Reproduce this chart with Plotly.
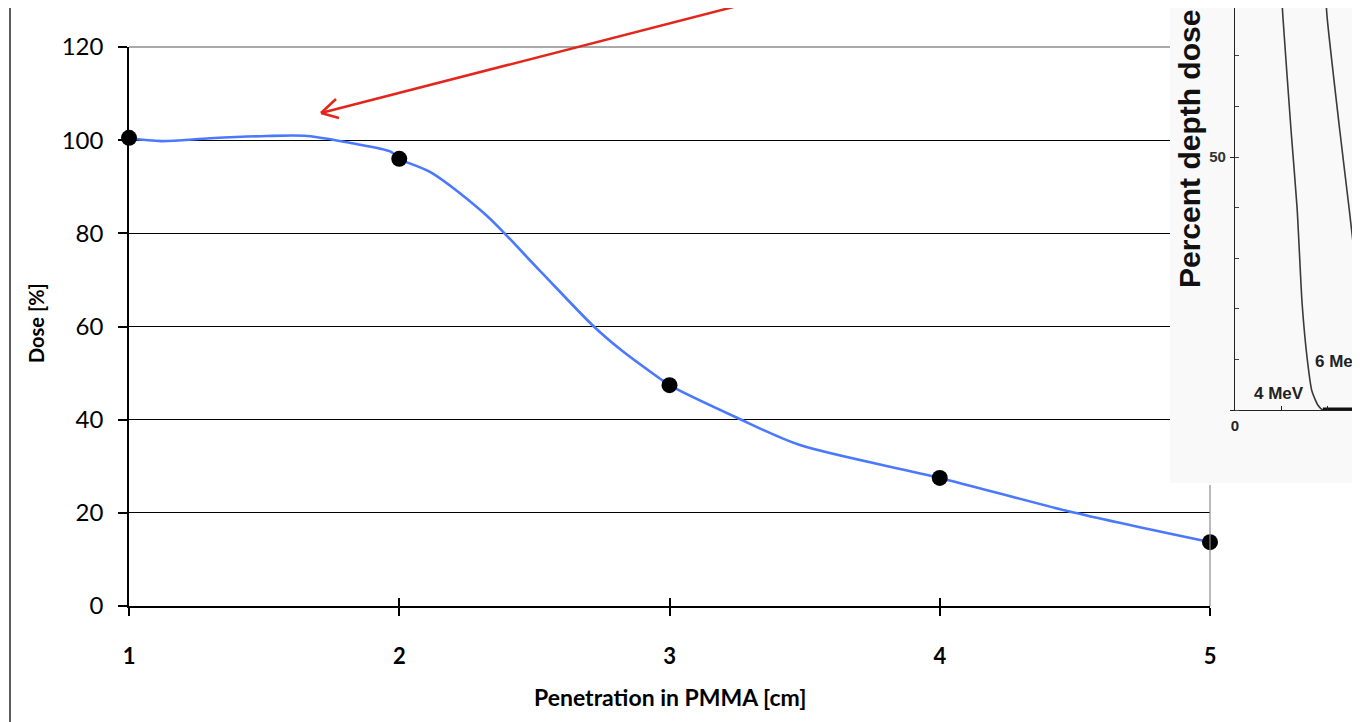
import plotly.graph_objects as go

W, H = 1360, 722
OFF = 8  # page body margin compensation (pixels)

# ---- main chart data ----
depth_cm = [1, 2, 3, 4, 5]
dose_pct = [100.5, 96.0, 47.4, 27.5, 13.7]

fit_depth_cm = [1.0, 1.12, 1.3, 1.51, 1.66, 1.82, 1.97, 2.0, 2.12, 2.32, 2.52,
                2.72, 2.82, 2.96, 3.0, 3.25, 3.48, 4.0, 4.5, 5.0]
fit_dose_pct = [100.4, 99.8, 100.4, 100.9, 100.9, 99.4, 97.5, 96.0, 93.0, 84.0, 72.0,
                60.0, 55.0, 49.0, 47.4, 40.4, 34.6, 27.5, 20.0, 13.7]

x_ticks = [1, 2, 3, 4, 5]
y_ticks = [0, 20, 40, 60, 80, 100, 120]

# ---- inset (percent depth dose) data ----
pdd_depth_4mev = [1.0, 1.04, 1.22, 1.35, 1.46, 1.57, 1.67, 1.80, 1.91, 2.72]
pdd_4mev = [84.0, 77.9, 55.1, 39.9, 20.9, 10.1, 3.8, 1.0, 0.0, 0.0]
pdd_depth_6mev = [1.95, 2.0, 2.28, 2.48, 2.65, 2.76, 2.9]
pdd_6mev = [86.0, 77.9, 55.1, 39.9, 26.6, 19.0, 10.0]
inset_labels = ["4 MeV", "6 MeV"]


def px(x):
    return (x - OFF) / W


def py(y):
    return (H - (y - OFF)) / H


fig = go.Figure()

# main chart
fig.add_trace(go.Scatter(x=fit_depth_cm, y=fit_dose_pct, mode="lines",
                         line=dict(color="#4a78ff", width=2.6, shape="spline", smoothing=0.8),
                         xaxis="x", yaxis="y", hoverinfo="skip"))
fig.add_trace(go.Scatter(x=depth_cm, y=dose_pct, mode="markers",
                         marker=dict(color="black", size=16),
                         cliponaxis=False, xaxis="x", yaxis="y"))
# tick crossing helper (inside ticks)
fig.add_trace(go.Scatter(x=depth_cm, y=dose_pct, mode="none", xaxis="x4", yaxis="y",
                         hoverinfo="skip"))

# inset background panel
fig.add_trace(go.Scatter(x=[0, 1, 1, 0, 0], y=[0, 0, 1, 1, 0], mode="lines",
                         fill="toself", fillcolor="#f9f9f9", line=dict(width=0),
                         xaxis="x2", yaxis="y2", hoverinfo="skip"))

# inset curves
fig.add_trace(go.Scatter(x=pdd_depth_4mev, y=pdd_4mev, mode="lines",
                         line=dict(color="#3a3a3a", width=1.6, shape="spline", smoothing=0.6),
                         xaxis="x3", yaxis="y3", hoverinfo="skip"))
fig.add_trace(go.Scatter(x=pdd_depth_6mev, y=pdd_6mev, mode="lines",
                         line=dict(color="#3a3a3a", width=1.6, shape="spline", smoothing=0.6),
                         xaxis="x3", yaxis="y3", hoverinfo="skip"))
fig.add_trace(go.Scatter(x=[pdd_depth_4mev[-2], pdd_depth_4mev[-1]], y=[0, 0], mode="lines",
                         line=dict(color="#111", width=5),
                         xaxis="x3", yaxis="y3", hoverinfo="skip"))

main_font = "Lato, Liberation Sans, sans-serif"
inset_font = "Liberation Sans, Arial, sans-serif"

fig.update_layout(
    width=W, height=H,
    margin=dict(l=0, r=0, t=0, b=0, pad=0, autoexpand=False),
    paper_bgcolor="white", plot_bgcolor="rgba(0,0,0,0)",
    showlegend=False,
    xaxis=dict(domain=[px(129), px(1210)], range=[1, 5], anchor="y", automargin=False,
               tickvals=x_ticks, ticktext=[str(v) for v in x_ticks],
               ticks="outside", ticklen=8, tickwidth=1.5, tickcolor="black",
               showline=True, linecolor="black", linewidth=1.5,
               showgrid=False, zeroline=False, ticklabelstandoff=22,
               tickfont=dict(family=main_font, size=22, color="black", weight="bold")),
    xaxis4=dict(overlaying="x", anchor="y", range=[1, 5], tickvals=x_ticks, automargin=False,
                ticks="inside", ticklen=8, tickwidth=1.5, tickcolor="black",
                showticklabels=False, showgrid=False, zeroline=False, showline=False),
    yaxis=dict(domain=[py(606), py(47)], range=[0, 120], anchor="x", automargin=False,
               tickvals=y_ticks, ticks="outside", ticklen=9, tickwidth=1.5, tickcolor="black",
               showline=True, linecolor="black", linewidth=1.5,
               showgrid=True, gridcolor="black", gridwidth=1.3, zeroline=False,
               ticklabelstandoff=10,
               tickfont=dict(family=main_font, size=24, color="black")),
    xaxis2=dict(domain=[px(1170), 1], range=[0, 1], anchor="y2", visible=False, automargin=False),
    yaxis2=dict(domain=[py(483), 1], range=[0, 1], anchor="x2", visible=False, automargin=False),
    xaxis3=dict(domain=[px(1235), 1], range=[0, 133 / 46], anchor="y3", automargin=False,
                tickvals=[0, 1, 2], ticktext=["0", "", ""],
                ticks="inside", ticklen=4, tickcolor="#222", tickwidth=1,
                showline=True, linecolor="#222", linewidth=1.2,
                showgrid=False, zeroline=False, ticklabelstandoff=2,
                tickfont=dict(family=inset_font, size=15, color="#222", weight="bold")),
    yaxis3=dict(domain=[py(410), 1], range=[0, 418 / 5.26], anchor="x3", automargin=False,
                tickvals=[0, 50, 100], ticktext=["", "50", ""],
                ticks="outside", ticklen=4, tickcolor="#222", tickwidth=1,
                minor=dict(dtick=10, tick0=0, ticks="inside", ticklen=4, tickcolor="#444"),
                showline=True, linecolor="#222", linewidth=1.2,
                showgrid=False, zeroline=False, ticklabelstandoff=1,
                tickfont=dict(family=inset_font, size=15, color="#333", weight="bold")),
)

shapes = [
    # outer frame
    dict(type="rect", xref="paper", yref="paper", x0=px(10), x1=1.2, y0=-0.2, y1=py(5),
         line=dict(color="#333", width=1.6), layer="below"),
    # plot area border (top / right) in gray
    dict(type="line", xref="paper", yref="paper", x0=px(129), x1=px(1170), y0=py(47), y1=py(47),
         line=dict(color="#8c8c8c", width=1.5), layer="above"),
    dict(type="line", xref="paper", yref="paper", x0=px(1210), x1=px(1210), y0=py(485), y1=py(606),
         line=dict(color="#8c8c8c", width=1.2), layer="above"),
    # red arrow
    dict(type="line", xref="paper", yref="paper", x0=px(780), y0=py(-5), x1=px(321), y1=py(113),
         line=dict(color="#e3261b", width=2.5), layer="above"),
    dict(type="line", xref="paper", yref="paper", x0=px(321), y0=py(113), x1=px(336), y1=py(99),
         line=dict(color="#e3261b", width=2.5), layer="above"),
    dict(type="line", xref="paper", yref="paper", x0=px(321), y0=py(113), x1=px(339), y1=py(118),
         line=dict(color="#e3261b", width=2.5), layer="above"),
]
fig.update_layout(shapes=shapes)

annotations = [
    dict(text="Penetration in PMMA [cm]", xref="paper", yref="paper",
         x=px(670), y=py(697), xanchor="center", yanchor="middle", showarrow=False,
         font=dict(family=main_font, size=23, color="black", weight="bold")),
    dict(text="Dose [%]", xref="paper", yref="paper", textangle=-90,
         x=px(36), y=py(323), xanchor="center", yanchor="middle", showarrow=False,
         font=dict(family=main_font, size=20, color="black", weight="bold")),
    dict(text="Percent depth dose", xref="paper", yref="paper", textangle=-90,
         x=px(1189), y=py(290), xanchor="center", yanchor="bottom", showarrow=False,
         font=dict(family=inset_font, size=30, color="#111", weight="bold")),
    dict(text=inset_labels[0], xref="paper", yref="paper",
         x=px(1279), y=py(393), xanchor="center", yanchor="middle", showarrow=False,
         font=dict(family=inset_font, size=17, color="#222", weight="bold")),
    dict(text=inset_labels[1], xref="paper", yref="paper",
         x=px(1313), y=py(361), xanchor="left", yanchor="middle", showarrow=False,
         font=dict(family=inset_font, size=17, color="#222", weight="bold")),
]
fig.update_layout(annotations=annotations)

fig.write_html("out.html")
